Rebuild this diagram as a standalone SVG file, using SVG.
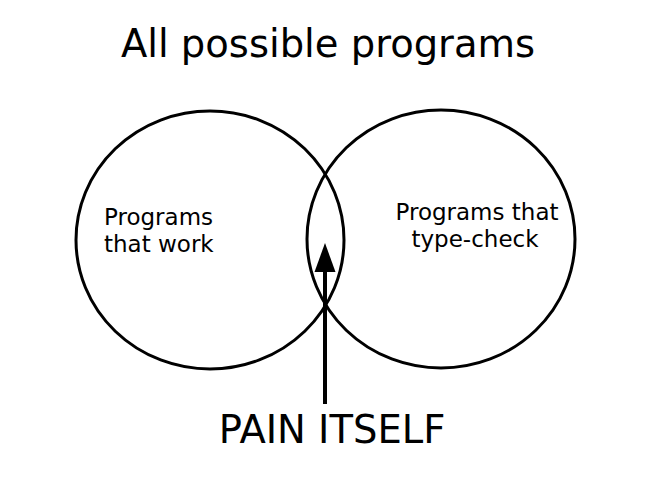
<svg xmlns="http://www.w3.org/2000/svg" width="648" height="484" viewBox="0 0 648 484">
<style>
text{font-family:"DejaVu Sans","Liberation Sans",sans-serif;fill:#000}
.set{fill:none;stroke:#000;stroke-width:3}
.lbl{font-size:23px}
.big{font-size:38.5px}
</style>
<rect width="648" height="484" fill="#fff"/>
<text class="big" x="328" y="57" text-anchor="middle" font-size="38.5">All possible programs</text>
<g id="works">
<ellipse class="set" cx="210" cy="240" rx="134" ry="129"/>
<text class="lbl" x="104" y="225">Programs</text>
<text class="lbl" x="104" y="252">that work</text>
</g>
<g id="typechecks">
<ellipse class="set" cx="441" cy="239" rx="134" ry="129"/>
<text class="lbl" x="477" y="220" text-anchor="middle">Programs that</text>
<text class="lbl" x="475" y="247" text-anchor="middle">type-check</text>
</g>
<g id="pain">
<text class="big" x="332" y="443" text-anchor="middle">PAIN ITSELF</text>
</g>
<g id="connectors">
<line x1="325" y1="404" x2="325" y2="272" stroke="#000" stroke-width="4"/>
<path d="M325,243 L314.5,272 L335.5,272 Z" fill="#000"/>
</g>
</svg>
